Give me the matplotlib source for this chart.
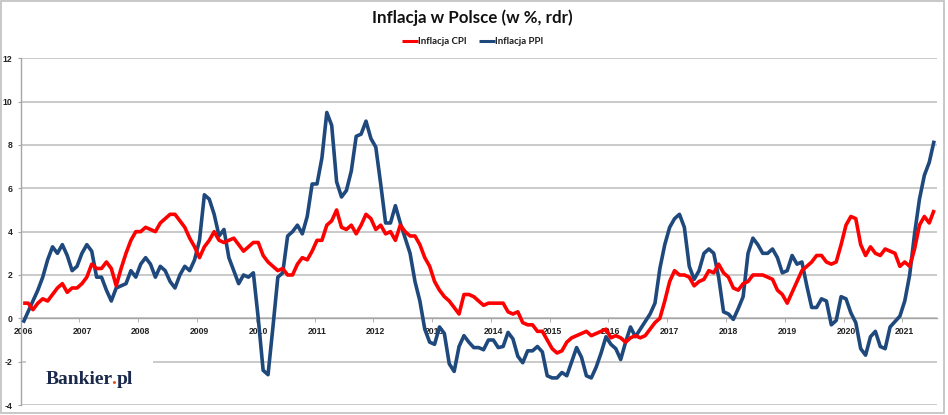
import matplotlib
matplotlib.use('Agg')
import matplotlib.pyplot as plt
import numpy as np
from matplotlib.patches import Rectangle

years = list(range(2006, 2022))

cpi = [
    0.7, 0.7, 0.4, 0.7, 0.9, 0.8, 1.1, 1.4, 1.6, 1.2, 1.4, 1.4,      # 2006
    1.6, 1.9, 2.5, 2.3, 2.3, 2.6, 2.3, 1.5, 2.3, 3.0, 3.6, 4.0,      # 2007
    4.0, 4.2, 4.1, 4.0, 4.4, 4.6, 4.8, 4.8, 4.5, 4.2, 3.7, 3.3,      # 2008
    2.8, 3.3, 3.6, 4.0, 3.6, 3.5, 3.6, 3.7, 3.4, 3.1, 3.3, 3.5,      # 2009
    3.5, 2.9, 2.6, 2.4, 2.2, 2.3, 2.0, 2.0, 2.5, 2.8, 2.7, 3.1,      # 2010
    3.6, 3.6, 4.3, 4.5, 5.0, 4.2, 4.1, 4.3, 3.9, 4.3, 4.8, 4.6,      # 2011
    4.1, 4.3, 3.9, 4.0, 3.6, 4.3, 4.0, 3.8, 3.8, 3.4, 2.8, 2.4,      # 2012
    1.7, 1.3, 1.0, 0.8, 0.5, 0.2, 1.1, 1.1, 1.0, 0.8, 0.6, 0.7,      # 2013
    0.7, 0.7, 0.7, 0.3, 0.2, 0.3, -0.2, -0.3, -0.3, -0.6, -0.6, -1.0,  # 2014
    -1.4, -1.6, -1.5, -1.1, -0.9, -0.8, -0.7, -0.6, -0.8, -0.7, -0.6, -0.5,  # 2015
    -0.9, -0.8, -0.9, -1.1, -0.9, -0.8, -0.9, -0.8, -0.5, -0.2, 0.0, 0.8,    # 2016
    1.7, 2.2, 2.0, 2.0, 1.9, 1.5, 1.7, 1.8, 2.2, 2.1, 2.5, 2.1,      # 2017
    1.9, 1.4, 1.3, 1.6, 1.7, 2.0, 2.0, 2.0, 1.9, 1.8, 1.3, 1.1,      # 2018
    0.7, 1.2, 1.7, 2.2, 2.4, 2.6, 2.9, 2.9, 2.6, 2.5, 2.6, 3.4,      # 2019
    4.3, 4.7, 4.6, 3.4, 2.9, 3.3, 3.0, 2.9, 3.2, 3.1, 3.0, 2.4,      # 2020
    2.6, 2.4, 3.2, 4.3, 4.7, 4.4, 5.0,                               # 2021
]

ppi = [
    -0.2, 0.3, 0.8, 1.3, 1.9, 2.7, 3.3, 3.0, 3.4, 2.9, 2.2, 2.4,     # 2006
    3.0, 3.4, 3.1, 1.9, 1.9, 1.3, 0.8, 1.4, 1.5, 1.6, 2.2, 1.9,      # 2007
    2.5, 2.8, 2.5, 1.9, 2.4, 2.2, 1.7, 1.4, 2.0, 2.4, 2.2, 2.7,      # 2008
    3.6, 5.7, 5.5, 4.8, 3.8, 4.1, 2.8, 2.2, 1.6, 2.0, 1.9, 2.1,      # 2009
    0.0, -2.4, -2.6, -0.4, 1.9, 2.1, 3.8, 4.0, 4.3, 3.9, 4.7, 6.2,   # 2010
    6.2, 7.4, 9.5, 8.9, 6.3, 5.6, 5.9, 6.8, 8.4, 8.5, 9.1, 8.3,      # 2011
    7.9, 6.2, 4.4, 4.4, 5.2, 4.4, 3.7, 3.0, 1.7, 0.8, -0.5, -1.1,    # 2012
    -1.2, -0.4, -0.7, -2.1, -2.45, -1.3, -0.8, -1.1, -1.35, -1.35, -1.45, -1.0,  # 2013
    -1.0, -1.35, -1.3, -0.65, -0.95, -1.75, -2.05, -1.5, -1.5, -1.3, -1.55, -2.65,  # 2014
    -2.75, -2.75, -2.5, -2.65, -2.0, -1.35, -1.8, -2.65, -2.75, -2.25, -1.6, -0.85,  # 2015
    -1.2, -1.4, -1.9, -1.1, -0.4, -0.85, -0.5, -0.15, 0.2, 0.7, 2.3, 3.4,  # 2016
    4.2, 4.6, 4.8, 4.2, 2.4, 1.8, 2.2, 3.0, 3.2, 3.0, 1.9, 0.3,      # 2017
    0.2, -0.05, 0.45, 1.0, 3.0, 3.7, 3.4, 3.0, 3.0, 3.2, 2.8, 2.1,   # 2018
    2.2, 2.9, 2.5, 2.6, 1.5, 0.5, 0.5, 0.9, 0.8, -0.3, -0.1, 1.0,    # 2019
    0.9, 0.25, -0.2, -1.4, -1.7, -0.85, -0.6, -1.3, -1.4, -0.4, -0.15, 0.1,  # 2020
    0.8, 2.0, 3.9, 5.5, 6.6, 7.2, 8.2,                               # 2021
]

title = 'Inflacja w Polsce (w %, rdr)'
labels = ['Inflacja CPI', 'Inflacja PPI']
yticks = list(range(-4, 13, 2))
logo_parts = ['Bankier', '.', 'pl']

CAL = ['Lato', 'Liberation Sans', 'DejaVu Sans']
SANS = ['Liberation Sans', 'DejaVu Sans']
SERIF = ['Liberation Serif', 'DejaVu Serif']

W, H = 948, 415
fig = plt.figure(figsize=(W / 100, H / 100), dpi=100)
fig.patch.set_facecolor('white')
renderer = fig.canvas.get_renderer()


def measure(s, size, family, weight='bold'):
    t = fig.text(0, 0, s, fontsize=size, fontweight=weight, family=family)
    fig.canvas.draw()
    bb = t.get_window_extent(renderer=renderer)
    t.remove()
    return bb


L, R, T, B = 20.7, 936.6, 58.3, 405.0
ax = fig.add_axes([L / W, 1 - B / H, (R - L) / W, (B - T) / H])

ax.plot(np.arange(len(cpi)), cpi, color='#ff0000', lw=2.6, label=labels[0], zorder=4,
        solid_joinstyle='round', solid_capstyle='butt')
ax.plot(np.arange(len(ppi)), ppi, color='#1f497d', lw=2.6, label=labels[1], zorder=3,
        solid_joinstyle='round', solid_capstyle='butt')

ax.set_xlim(-0.5, len(cpi) - 0.5)
ax.set_ylim(-4, 12)
ax.set_yticks(yticks)
ax.set_yticklabels([str(v) for v in yticks])
ax.yaxis.grid(True, color='#c6c6c6', lw=1.3)
ax.set_axisbelow(True)

for s in ['top', 'right']:
    ax.spines[s].set_visible(False)
ax.spines['left'].set_color('#a6a6a6')
ax.spines['left'].set_linewidth(1.0)
ax.spines['bottom'].set_position(('data', 0))
ax.spines['bottom'].set_color('#a6a6a6')
ax.spines['bottom'].set_linewidth(1.0)

ax.set_xticks([12 * k for k in range(len(years))])
ax.set_xticklabels([str(y) for y in years])
ax.set_xticks([12 * k - 0.5 for k in range(len(years))], minor=True)
ax.tick_params(axis='x', which='major', length=0, pad=6, labelsize=6.2, colors='#222222')
ax.tick_params(axis='x', which='minor', length=3, color='#a6a6a6', direction='out')
ax.tick_params(axis='y', length=2, color='#a6a6a6', pad=4, labelsize=6.2, labelcolor='#222222')
for lbl in ax.get_xticklabels() + ax.get_yticklabels():
    lbl.set_fontweight('bold')
    lbl.set_family(SANS)

# white box behind the logo (hides the -2 gridline there)
x0 = (26 - L) / (R - L)
x1 = (152.7 - L) / (R - L)
y0 = (B - 396) / (B - T)
y1 = (B - 338) / (B - T)
ax.add_patch(Rectangle((x0, y0), x1 - x0, y1 - y0, transform=ax.transAxes,
                       facecolor='white', edgecolor='none', zorder=2))

# title, size fitted to the reference width
tw = measure(title, 13, CAL).width
fig.text(472.5 / W, 1 - 22.7 / H, title, ha='center', va='baseline', fontsize=13 * 200 / tw,
         fontweight='bold', family=CAL, color='#111111')

# legend, size fitted so that the label widths match the reference
pw = measure(labels[0], 8, CAL).width
lsize = 8 * 48.7 / pw
em = lsize * 100 / 72
leg = ax.legend(loc='center', bbox_to_anchor=(472.9 / W, 1 - 41.7 / H), bbox_transform=fig.transFigure,
                ncol=2, frameon=False, handlelength=15.7 / em, handletextpad=0.5 / em,
                columnspacing=12 / em, borderpad=0, borderaxespad=0,
                prop={'family': CAL, 'weight': 'bold', 'size': lsize})
for t in leg.get_texts():
    t.set_color('#1a1a1a')
for h in leg.get_lines():
    h.set_linewidth(2.2)

# logo text: "Bankier" navy, "." orange, "pl" navy, placed by measured advances
navy = '#1b2a4c'
fw = measure(''.join(logo_parts), 13.3, SERIF).width
fs = 13.3 * 86.7 / fw
lx, ly = 46.0, 1 - 383.5 / H
colors = [navy, '#e8501e', navy]
for k, (part, col) in enumerate(zip(logo_parts, colors)):
    right = measure(''.join(logo_parts[:k + 1]), fs, SERIF).width
    fig.text((lx + right) / W, ly, part, ha='right', va='baseline', fontsize=fs,
             fontweight='bold', family=SERIF, color=col)

# outer chart border
fig.add_artist(Rectangle((1 / W, 1 - 413 / H), 943 / W, 412 / H, transform=fig.transFigure,
                         fill=False, edgecolor='#bfbfbf', lw=1.2))

fig.savefig('out.png', dpi=100)
